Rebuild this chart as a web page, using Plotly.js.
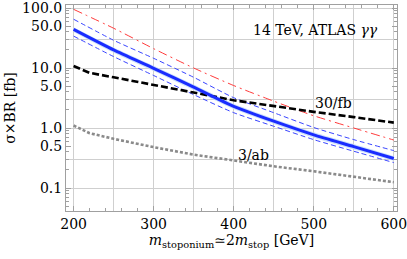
<!DOCTYPE html>
<html>
<head>
<meta charset="utf-8">
<script src="https://cdn.plot.ly/plotly-3.0.1.min.js"></script>
<style>html,body{margin:0;padding:0;background:#fff;}#chart{width:407px;height:259px;}</style>
</head>
<body>
<div id="chart"></div>
<script>
// Masses (GeV)
const mass = [200, 250, 300, 350, 400, 450, 500, 550, 600];
// Stoponium signal sigma x BR (fb)
const sigmaCentral = [44, 20, 9.9, 4.8, 2.3, 1.3, 0.77, 0.49, 0.31];
const sigmaBandHi  = [48, 22, 10.9, 5.3, 2.53, 1.43, 0.85, 0.54, 0.34];
const sigmaBandLo  = [40, 18, 8.9, 4.3, 2.07, 1.17, 0.69, 0.44, 0.285];
const sigmaUpper   = [65, 29, 14.5, 7.0, 3.2, 1.8, 1.02, 0.64, 0.42];
const sigmaLower   = [34, 15.5, 7.5, 3.6, 1.8, 1.07, 0.64, 0.41, 0.265];
const sigmaRed     = [95, 46, 21, 10, 5.1, 2.8, 1.6, 1.0, 0.63];
// Expected limits
const limitMass  = [200, 220, 250, 300, 350, 400, 450, 500, 550, 600];
const limit30fb  = [10.8, 8.3, 7.0, 5.3, 3.9, 2.9, 2.3, 1.86, 1.52, 1.23];
const limit3ab   = [1.1, 0.82, 0.66, 0.48, 0.36, 0.285, 0.23, 0.19, 0.155, 0.125];
// Ticks
const xTickVals = [200, 300, 400, 500, 600];
const xGridVals = [200, 250, 300, 350, 400, 450, 500, 550, 600];
const yTickVals = [0.1, 0.5, 1, 5, 10, 50, 100];
const yTickText = ['0.1', '0.5', '1.0', '5.0', '10.0', '50.0', '100.0'];
const yGridVals = [0.1, 0.3, 1, 3, 10, 30, 100];
const yMinorVals = [0.05,0.06,0.07,0.08,0.09,0.2,0.3,0.4,0.6,0.7,0.8,0.9,2,3,4,6,7,8,9,20,30,40,60,70,80,90];

const serif = '"DejaVu Serif", "Liberation Serif", serif';
const xr = [190.5, 604];
const yr = [-1.383, 2.05];

const traces = [
  {x: mass, y: sigmaBandLo, xaxis:'x', yaxis:'y', mode:'lines', line:{width:0, shape:'spline', smoothing:0.6}, hoverinfo:'skip', showlegend:false},
  {x: mass, y: sigmaBandHi, xaxis:'x', yaxis:'y', mode:'lines', fill:'tonexty', fillcolor:'rgba(190,215,250,0.8)', line:{width:0, shape:'spline', smoothing:0.6}, hoverinfo:'skip', showlegend:false},
  {x: mass, y: sigmaRed, mode:'lines', line:{color:'#ff3b3b', width:1, dash:'9px,4px,2px,4px', shape:'spline', smoothing:0.6}},
  {x: mass, y: sigmaUpper, mode:'lines', line:{color:'#3a46ff', width:1, dash:'5px,3px', shape:'spline', smoothing:0.6}},
  {x: mass, y: sigmaLower, mode:'lines', line:{color:'#3a46ff', width:1, dash:'5px,3px', shape:'spline', smoothing:0.6}},
  {x: limitMass, y: limit30fb, mode:'lines', line:{color:'#000', width:2.6, dash:'7px,3px'}},
  {x: limitMass, y: limit3ab, mode:'lines', line:{color:'#8a8a8a', width:2.6, dash:'3px,2px'}},
  {x: mass, y: sigmaCentral, mode:'lines', line:{color:'#1a2cff', width:3, shape:'spline', smoothing:0.6}},
  {x: mass, y: sigmaCentral, xaxis:'x2', yaxis:'y2', mode:'lines', line:{width:0}, opacity:0, hoverinfo:'skip', showlegend:false}
];

const frame = '#a0a0a0';
const grid = '#cfcfcf';

const layout = {
  width: 407, height: 259,
  margin: {l: 65.7, r: 10.3, t: 5, b: 48},
  paper_bgcolor: '#fff', plot_bgcolor: '#fff',
  showlegend: false,
  font: {family: serif, size: 14, color: '#000'},
  xaxis: {
    range: xr, showgrid: false, zeroline: false,
    tickvals: xTickVals, ticks: 'inside', ticklen: 5, tickcolor: frame,
    ticklabeloverflow: 'allow',
    minor: {dtick: 20, tick0: 200, ticks: 'inside', ticklen: 3, tickcolor: frame, showgrid: false},
    showline: true, linecolor: frame, linewidth: 1, mirror: 'ticks',
    tickfont: {family: serif, size: 14, color: '#000'},
    title: {text: '<i>m</i><sub>stoponium</sub>\u22432<i>m</i><sub>stop</sub> [GeV]', font: {family: serif, size: 14, color: '#000'}, standoff: 4}
  },
  yaxis: {
    type: 'log', range: yr, showgrid: false, zeroline: false,
    tickvals: yTickVals, ticktext: yTickText, ticks: 'inside', ticklen: 5, tickcolor: frame,
    ticklabeloverflow: 'allow',
    minor: {tickvals: yMinorVals, ticks: 'inside', ticklen: 3, tickcolor: frame, showgrid: false},
    showline: true, linecolor: frame, linewidth: 1, mirror: 'ticks',
    tickfont: {family: serif, size: 14, color: '#000'},
    title: {text: '\u03c3\u00d7BR [fb]', font: {family: serif, size: 14, color: '#000'}, standoff: 3}
  },
  xaxis2: {overlaying: 'x', range: xr, tickvals: xGridVals, showgrid: true, gridcolor: grid, gridwidth: 1,
           showticklabels: false, ticks: '', showline: false, zeroline: false, side: 'top'},
  yaxis2: {overlaying: 'y', type: 'log', range: yr, tickvals: yGridVals, showgrid: true, gridcolor: grid, gridwidth: 1,
           showticklabels: false, ticks: '', showline: false, zeroline: false, side: 'right'},
  annotations: [
    {x: 502, y: Math.log10(43), xref: 'x', yref: 'y', text: '14 TeV, ATLAS <i>\u03b3\u03b3</i>', showarrow: false,
     font: {family: serif, size: 14, color: '#000'}, xanchor: 'center', yanchor: 'middle'},
    {x: 524.6, y: Math.log10(2.6), xref: 'x', yref: 'y', text: '30/fb', showarrow: false,
     font: {family: serif, size: 14, color: '#000'}, xanchor: 'center', yanchor: 'middle'},
    {x: 424.6, y: Math.log10(0.355), xref: 'x', yref: 'y', text: '3/ab', showarrow: false,
     font: {family: serif, size: 14, color: '#000'}, xanchor: 'center', yanchor: 'middle'}
  ]
};

Plotly.newPlot('chart', traces, layout, {staticPlot: true, displayModeBar: false});
</script>
</body>
</html>
